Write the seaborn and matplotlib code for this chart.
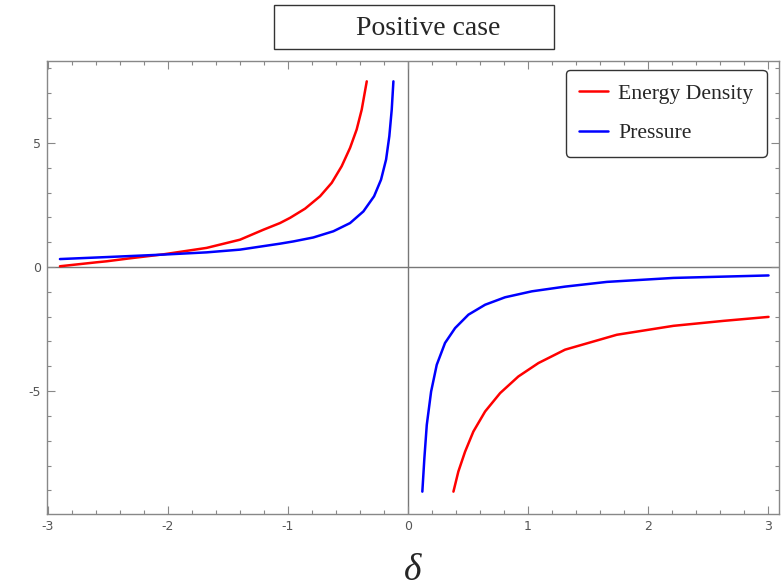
import matplotlib
matplotlib.use("Agg")
import matplotlib.pyplot as plt
from matplotlib.patches import Rectangle
from matplotlib.ticker import MultipleLocator
import seaborn as sns
import pandas as pd

# Values
# Energy density, left branch (delta < 0)
rho_left_x = [-2.90, -2.594, -2.511, -2.317, -2.039, -1.678, -1.40, -1.206,
              -1.067, -0.983, -0.858, -0.733, -0.636, -0.553, -0.483, -0.428,
              -0.386, -0.344]
rho_left_y = [0.03, 0.19, 0.23, 0.35, 0.51, 0.77, 1.10, 1.50,
              1.77, 1.98, 2.35, 2.85, 3.39, 4.06, 4.80, 5.54,
              6.34, 7.48]
# Energy density, right branch (delta > 0)
rho_right_x = [0.378, 0.419, 0.475, 0.544, 0.642, 0.767, 0.919, 1.086,
               1.308, 1.739, 2.211, 2.628, 3.003]
rho_right_y = [-9.05, -8.24, -7.44, -6.63, -5.82, -5.08, -4.41, -3.87,
               -3.33, -2.73, -2.37, -2.17, -2.01]
# Pressure, left branch
p_left_x = [-2.90, -2.511, -2.039, -1.678, -1.40, -1.206, -1.067, -0.956,
            -0.789, -0.622, -0.483, -0.372, -0.283, -0.225, -0.183, -0.156,
            -0.136, -0.122]
p_left_y = [0.32, 0.40, 0.50, 0.59, 0.70, 0.84, 0.94, 1.03,
            1.19, 1.44, 1.77, 2.24, 2.85, 3.52, 4.33, 5.27,
            6.34, 7.48]
# Pressure, right branch
p_right_x = [0.119, 0.136, 0.156, 0.192, 0.239, 0.308, 0.392, 0.503,
             0.642, 0.808, 1.031, 1.308, 1.656, 2.211, 3.003]
p_right_y = [-9.05, -7.70, -6.36, -5.02, -3.94, -3.06, -2.46, -1.92,
             -1.52, -1.22, -0.98, -0.79, -0.60, -0.44, -0.34]

series_names = ["Energy Density", "Pressure"]
series_colors = ["#ff0000", "#0000ff"]

sns.set_style("ticks")
plt.rcParams["axes.unicode_minus"] = False

fig = plt.figure(figsize=(7.84, 5.87), dpi=100)
ax = fig.add_axes([0.0596, 0.1244, 0.934, 0.7717])

branches = [
    (rho_left_x, rho_left_y, 0, True),
    (rho_right_x, rho_right_y, 0, False),
    (p_left_x, p_left_y, 1, True),
    (p_right_x, p_right_y, 1, False),
]
for xs, ys, k, show in branches:
    df = pd.DataFrame({"delta": xs, "value": ys})
    sns.lineplot(data=df, x="delta", y="value", ax=ax, color=series_colors[k],
                 lw=1.8, sort=False, estimator=None,
                 label=series_names[k] if show else None)

# axes through the origin
ax.axhline(0, color="#777777", lw=1.0, zorder=0)
ax.axvline(0, color="#777777", lw=1.0, zorder=0)

ax.set_xlim(-3.01, 3.09)
ax.set_ylim(-9.95, 8.3)

ax.xaxis.set_major_locator(MultipleLocator(1))
ax.xaxis.set_minor_locator(MultipleLocator(0.2))
ax.yaxis.set_major_locator(MultipleLocator(5))
ax.yaxis.set_minor_locator(MultipleLocator(1))
ax.tick_params(which="both", direction="in", top=True, right=True,
               color="#888888", width=0.8)
ax.tick_params(which="major", length=6, labelsize=9, labelcolor="#555555", pad=4)
ax.tick_params(which="minor", length=3)
ax.tick_params(axis="x", labeltop=False)
ax.tick_params(axis="y", labelright=False)
for s in ax.spines.values():
    s.set_color("#888888")
    s.set_linewidth(1.0)

ax.set_ylabel("")
ax.set_xlabel("δ", fontsize=27, family="Liberation Serif", style="italic",
              labelpad=15)

leg = ax.legend(loc="upper right", bbox_to_anchor=(0.983, 0.98),
                borderaxespad=0, fancybox=True, framealpha=1,
                edgecolor="#333333", handlelength=1.35, labelspacing=0.9,
                borderpad=0.62, handletextpad=0.45,
                prop={"family": "Liberation Serif", "size": 15.6})
leg.get_frame().set_linewidth(1.0)

# title in a box
fig.patches.append(Rectangle((274 / 784, 1 - 49 / 587), 280 / 784, 44 / 587,
                             transform=fig.transFigure, fill=False,
                             edgecolor="#333333", lw=1.0))
fig.text(428.5 / 784, 1 - 35 / 587, "Positive case", ha="center",
         va="baseline", fontsize=20, family="Liberation Serif")

fig.savefig("out.png", dpi=100)
